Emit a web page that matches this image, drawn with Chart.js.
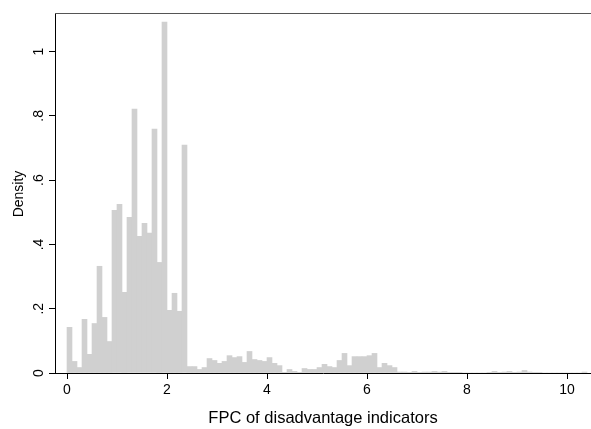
<!DOCTYPE html>
<html>
<head>
<meta charset="utf-8">
<script src="https://cdn.jsdelivr.net/npm/chart.js@4/dist/chart.umd.min.js"></script>
<style>
  html, body { margin: 0; padding: 0; background: #fff; }
  #wrap { width: 591px; height: 429px; }
</style>
</head>
<body>
<div id="wrap"><canvas id="hist" width="591" height="429"></canvas></div>
<script>
// histogram bins: start at 0, width 0.1
const binStart = 0;
const binWidth = 0.1;
const density = [
  0.142, 0.036, 0.017, 0.167, 0.058, 0.154, 0.332, 0.173, 0.098, 0.506,
  0.525, 0.251, 0.484, 0.821, 0.425, 0.466, 0.435, 0.759, 0.344, 1.092,
  0.195, 0.248, 0.192, 0.709, 0.020, 0.020, 0.011, 0.017, 0.045, 0.039,
  0.030, 0.036, 0.054, 0.048, 0.051, 0.033, 0.067, 0.042, 0.039, 0.036,
  0.048, 0.030, 0.023, 0.002, 0.011, 0.005, 0.002, 0.014, 0.011, 0.011,
  0.017, 0.027, 0.020, 0.017, 0.039, 0.061, 0.023, 0.051, 0.051, 0.051,
  0.054, 0.061, 0.017, 0.030, 0.023, 0.017, 0.003, 0.003, 0.002, 0.005,
  0.002, 0.003, 0.003, 0.005, 0.003, 0.005, 0.002, 0.002, 0.002, 0,
  0, 0, 0, 0, 0.002, 0.005, 0.002, 0.003, 0.005, 0.002,
  0.003, 0.008, 0.003, 0.002, 0.002, 0, 0, 0, 0, 0,
  0, 0, 0, 0.003
];
const xTicks = [0, 2, 4, 6, 8, 10];
const yTicks = [0, 0.2, 0.4, 0.6, 0.8, 1];
const yTickLabels = ['0', '.2', '.4', '.6', '.8', '1'];
const xTitle = 'FPC of disadvantage indicators';
const yTitle = 'Density';

const points = density.map((d, i) => ({ x: binStart + binWidth * (i + 0.5), y: d }));

const textFont = '"Liberation Sans", Arial, Helvetica, sans-serif';

// rotated y labels, y title and the top frame line
const stataDecor = {
  id: 'stataDecor',
  afterDraw(chart) {
    const ctx = chart.ctx;
    const y = chart.scales.y;
    const area = chart.chartArea;
    ctx.save();
    ctx.strokeStyle = '#555';
    ctx.lineWidth = 1;
    ctx.beginPath();
    ctx.moveTo(area.left, area.top + 0.5);
    ctx.lineTo(area.right, area.top + 0.5);
    ctx.stroke();

    ctx.fillStyle = '#000';
    ctx.textAlign = 'center';
    ctx.textBaseline = 'alphabetic';
    ctx.font = '14px ' + textFont;
    yTicks.forEach((v, i) => {
      ctx.save();
      ctx.translate(43, y.getPixelForValue(v));
      ctx.rotate(-Math.PI / 2);
      ctx.fillText(yTickLabels[i], 0, 0);
      ctx.restore();
    });
    ctx.save();
    ctx.translate(23, (area.top + area.bottom) / 2 + 1);
    ctx.rotate(-Math.PI / 2);
    ctx.fillText(yTitle, 0, 0);
    ctx.restore();
    ctx.restore();
  }
};

new Chart(document.getElementById('hist'), {
  type: 'bar',
  data: {
    datasets: [{
      data: points,
      backgroundColor: '#d0d0d0',
      borderWidth: 0,
      barPercentage: 1.0,
      categoryPercentage: 1.0
    }]
  },
  options: {
    responsive: false,
    animation: false,
    events: [],
    layout: { padding: { top: 13, right: 0, bottom: 0, left: 0 } },
    plugins: {
      legend: { display: false },
      tooltip: { enabled: false }
    },
    scales: {
      x: {
        type: 'linear',
        offset: false,
        min: -0.24,
        max: 10.48,
        afterFit: s => { s.height = 56; },
        afterBuildTicks: s => { s.ticks = xTicks.map(v => ({ value: v })); },
        grid: { offset: false, drawOnChartArea: false, drawTicks: true, tickLength: 6, color: '#000' },
        border: { display: true, color: '#000', width: 1 },
        ticks: {
          color: '#000',
          padding: 3,
          font: { size: 14, family: textFont },
          callback: v => String(v)
        },
        title: {
          display: true,
          text: xTitle,
          color: '#000',
          font: { size: 16.5, family: textFont },
          padding: { top: 0, bottom: 1 }
        }
      },
      y: {
        type: 'linear',
        min: 0,
        max: 1.12,
        afterFit: s => { s.width = 55; },
        afterBuildTicks: s => { s.ticks = yTicks.map(v => ({ value: v })); },
        grid: { drawOnChartArea: false, drawTicks: true, tickLength: 6, color: '#000' },
        border: { display: true, color: '#000', width: 1 },
        ticks: { display: false }
      }
    }
  },
  plugins: [stataDecor]
});
</script>
</body>
</html>
